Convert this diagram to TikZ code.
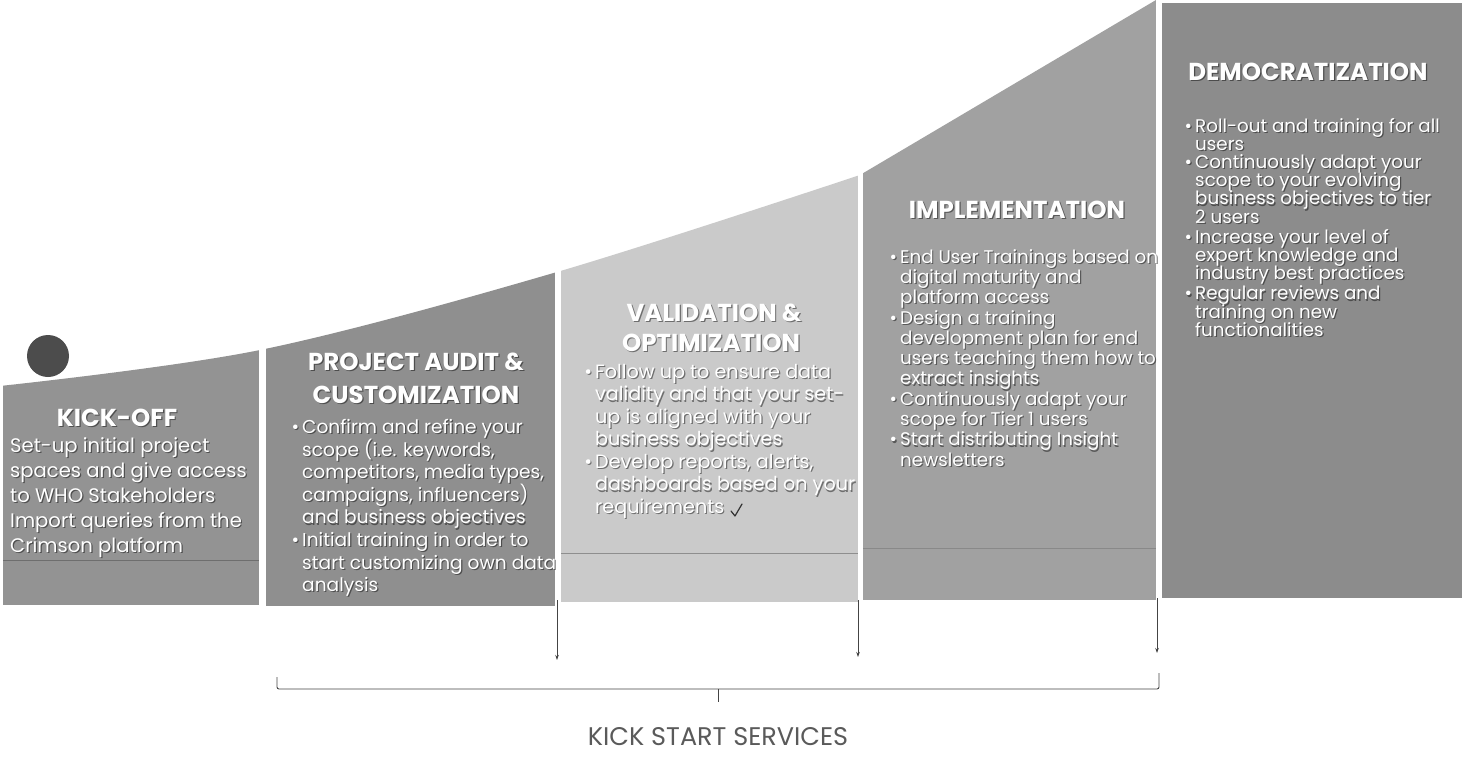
\documentclass[tikz,border=0pt]{standalone}
\usepackage{fontspec}
\setmainfont{Poppins}
\usetikzlibrary{arrows.meta}

\definecolor{panelA}{HTML}{939393}
\definecolor{panelB}{HTML}{8F8F8F}
\definecolor{panelC}{HTML}{CACACA}
\definecolor{panelD}{HTML}{A1A1A1}
\definecolor{panelE}{HTML}{8C8C8C}
\definecolor{inkgray}{HTML}{444444}
\definecolor{labelgray}{HTML}{5A5A5A}

\newcommand\bul{\llap{\textbullet\hspace{3pt}}}
% shadowed text: name, style, position, text
\newcommand\shadowtext[4]{%
  \node[#2, shade copy] (#1-sh) at #3 {#4};
  \node[#2] (#1) at #3 {#4};}
% body font with a fixed line pitch
\newcommand\bodyfont[2]{\fontsize{#1}{#2}\selectfont\lineskiplimit=-20pt\relax}

\tikzset{
  shade copy/.style={text=black, opacity=0.45, xshift=1.2pt, yshift=-1.2pt},
  head/.style={inner sep=0, text=white, font=\bfseries\fontsize{24.5}{28}\selectfont},
  body/.style={inner sep=0, anchor=north west, align=left, text=white},
  bodyA/.style={body, font=\bodyfont{19.6}{25}},
  bodyB/.style={body, font=\bodyfont{18.6}{22.6}},
  bodyC/.style={body, font=\bodyfont{19.2}{22.5}},
  bodyD/.style={body, font=\bodyfont{18.3}{20.3}},
  bodyE/.style={body, font=\bodyfont{18.3}{18.2}},
  seam/.style={line width=0.8pt},
  pointer/.style={draw=inkgray, line width=0.8pt, -{Stealth[length=5pt,width=3.5pt]}},
  bracket/.style={draw=inkgray, line width=0.9pt, rounded corners=2pt},
  caption/.style={inner sep=0, text=labelgray, font=\fontsize{25.5}{30}\selectfont},
}

\begin{document}
\begin{tikzpicture}[x=1pt, y=-1pt]
\useasboundingbox (0,0) rectangle (1466,762);
\fill[white] (0,0) rectangle (1466,762);

% the five phase panels, cut along the rising growth curve
\begin{scope}
  \clip plot[smooth, tension=0.55] coordinates
        {(0,386) (260,350) (557,272) (860,175)}
        -- (1156,0) -- (1466,0) -- (1466,762) -- (0,762) -- cycle;
  \fill[panelA] (3,0)    rectangle (259,605);
  \fill[panelB] (266,0)  rectangle (555,606);
  \fill[panelC] (561,0)  rectangle (858,602);
  \fill[panelD] (863,0)  rectangle (1156,600);
  \fill[panelE] (1162,3) rectangle (1462,598);
\end{scope}

% faint box borders below the text
\draw[seam, panelA!75!black] (3,560) -- (259,560);
\draw[seam, panelC!70!black] (561,553) -- (858,553);
\draw[seam, panelD!85!black] (863,548) -- (1156,548);

% punched hole
\fill[black!70] (48,356) circle (21);

% headings
\shadowtext{h1}{head}{(117,418)}{KICK-OFF}
\shadowtext{h2a}{head}{(416,362)}{PROJECT AUDIT \&}
\shadowtext{h2b}{head}{(416,395)}{CUSTOMIZATION}
\shadowtext{h3a}{head}{(714,313)}{VALIDATION \&}
\shadowtext{h3b}{head}{(711,343)}{OPTIMIZATION}
\shadowtext{h4}{head}{(1017,210)}{IMPLEMENTATION}
\shadowtext{h5}{head}{(1308,72)}{DEMOCRATIZATION}

% panel texts
\shadowtext{t1}{bodyA}{(10,437)}{Set-up initial project\\
spaces and give access\\
to WHO Stakeholders\\
Import queries from the\\
Crimson platform}

\shadowtext{t2}{bodyB}{(302,419)}{\bul Confirm and refine your\\
scope (i.e. keywords,\\
competitors, media types,\\
campaigns, influencers)\\
and business objectives\\
\bul Initial training in order to\\
start customizing own data\\
analysis}

\shadowtext{t3}{bodyC}{(595,364)}{\bul Follow up to ensure data\\
validity and that your set-\\
up is aligned with your\\
business objectives\\
\bul Develop reports, alerts,\\
dashboards based on your\\
requirements}

\shadowtext{t4}{bodyD}{(900,249)}{\bul End User Trainings based on\\
digital maturity and\\
platform access\\
\bul Design a training\\
development plan for end\\
users teaching them how to\\
extract insights\\
\bul Continuously adapt your\\
scope for Tier 1 users\\
\bul Start distributing Insight\\
newsletters}

\shadowtext{t5}{bodyE}{(1195,118)}{\bul Roll-out and training for all\\
users\\
\bul Continuously adapt your\\
scope to your evolving\\
business objectives to tier\\
2 users\\[2pt]
\bul Increase your level of\\
expert knowledge and\\
industry best practices\\[2pt]
\bul Regular reviews and\\
training on new\\
functionalities}

% pen tick after the requirements line
\draw[black!80, line width=1.2pt, line cap=round, line join=round]
  (731,511) -- (735,516) -- (742,504);

% pointers under the panel seams
\coordinate (p1s) at (557,600);
\coordinate (p1e) at (557,660);
\coordinate (p2s) at (858,600);
\coordinate (p2e) at (858,657);
\coordinate (p3s) at (1157,598);
\coordinate (p3e) at (1157,653);
\draw[pointer] (p1s) -- (p1e);
\draw[pointer] (p2s) -- (p2e);
\draw[pointer] (p3s) -- (p3e);

% bracket grouping the kick start phases
\coordinate (bl) at (277,677);
\coordinate (blc) at (277,689);
\coordinate (brc) at (1159,689);
\coordinate (br) at (1159,673);
\coordinate (bm) at (718,689);
\coordinate (bt) at (718,702);
\draw[bracket] (bl) -- (blc) -- (brc) -- (br);
\draw[draw=inkgray, line width=0.9pt] (bm) -- (bt);

\node[caption] (kss) at (718,737) {KICK START SERVICES};
\end{tikzpicture}
\end{document}
